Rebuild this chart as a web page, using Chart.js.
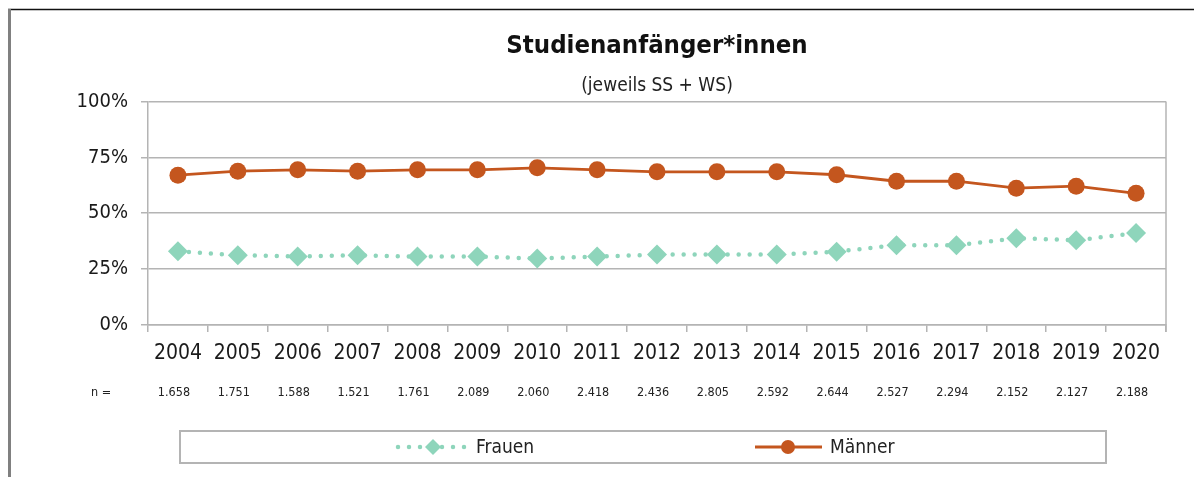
<!DOCTYPE html>
<html lang="de">
<head>
<meta charset="utf-8">
<title>Studienanfänger*innen</title>
<script src="https://cdn.jsdelivr.net/npm/chart.js@4.4.1/dist/chart.umd.min.js"></script>
<style>
  html, body { margin: 0; padding: 0; background: #fff; }
  #wrap { width: 1194px; height: 477px; position: relative; }
</style>
</head>
<body>
<div id="wrap"><canvas id="grafico"></canvas></div>
<script>
// Daten
const jahre = ['2004', '2005', '2006', '2007', '2008', '2009', '2010', '2011', '2012',
               '2013', '2014', '2015', '2016', '2017', '2018', '2019', '2020'];
const frauen = [33.0, 31.2, 30.6, 31.2, 30.6, 30.6, 29.7, 30.6, 31.5, 31.5, 31.5, 32.8, 35.7, 35.7, 38.8, 37.9, 41.1];
const maenner = [67.0, 68.8, 69.4, 68.8, 69.4, 69.4, 70.3, 69.4, 68.5, 68.5, 68.5, 67.2, 64.3, 64.3, 61.2, 62.1, 58.9];
const anzahl = ['1.658', '1.751', '1.588', '1.521', '1.761', '2.089', '2.060', '2.418', '2.436',
                '2.805', '2.592', '2.644', '2.527', '2.294', '2.152', '2.127', '2.188'];
const yTicks = [0, 25, 50, 75, 100];

const FONT = '"DejaVu Sans Condensed", "Liberation Sans Narrow", "DejaVu Sans", sans-serif';
const farbeFrauen = '#8ed5bb';
const farbeMaenner = '#c4561e';
const grau = '#b4b4b4';

// Zeichnet Rahmen, rechte Achsenlinie, n-Zeile und Legende
const extras = {
    id: 'extras',
    afterDraw(chart) {
        const ctx = chart.ctx;
        const area = chart.chartArea;
        const x = chart.scales.x;
        ctx.save();

        // rechte Linie der Zeichenfläche
        ctx.strokeStyle = grau;
        ctx.lineWidth = 1.5;
        ctx.beginPath();
        ctx.moveTo(area.right, area.top);
        ctx.lineTo(area.right, area.bottom + 7);
        ctx.stroke();

        // äußerer Rahmen (oben schwarz, links grau)
        ctx.strokeStyle = '#111';
        ctx.lineWidth = 1.5;
        ctx.beginPath();
        ctx.moveTo(8, 9.5);
        ctx.lineTo(chart.width, 9.5);
        ctx.stroke();
        ctx.strokeStyle = '#808080';
        ctx.lineWidth = 3;
        ctx.beginPath();
        ctx.moveTo(9.5, 9);
        ctx.lineTo(9.5, chart.height);
        ctx.stroke();

        // n = ...
        const yN = area.bottom + 68;
        ctx.fillStyle = '#222';
        ctx.font = '12.5px ' + FONT;
        ctx.textBaseline = 'middle';
        ctx.textAlign = 'center';
        ctx.fillText('n =', 101, yN);
        anzahl.forEach((n, i) => {
            ctx.fillText(n, x.getPixelForValue(i) - 4, yN);
        });

        // Legende
        const top = chart.height - 46;
        const lx = area.left + 32;
        const rx = area.right - 60;
        ctx.strokeStyle = grau;
        ctx.lineWidth = 2;
        ctx.strokeRect(lx, top, rx - lx, 32);
        const ly = top + 16;

        // Frauen: gepunktete Linie mit Raute
        const fx = 433;
        ctx.strokeStyle = farbeFrauen;
        ctx.lineWidth = 4.5;
        ctx.lineCap = 'round';
        ctx.setLineDash([0, 11]);
        ctx.beginPath();
        ctx.moveTo(fx - 35, ly);
        ctx.lineTo(fx + 37, ly);
        ctx.stroke();
        ctx.setLineDash([]);
        ctx.fillStyle = farbeFrauen;
        ctx.beginPath();
        ctx.moveTo(fx - 8, ly);
        ctx.lineTo(fx, ly - 8);
        ctx.lineTo(fx + 8, ly);
        ctx.lineTo(fx, ly + 8);
        ctx.closePath();
        ctx.fill();

        // Männer: Linie mit Kreis
        const mx = 788;
        ctx.strokeStyle = farbeMaenner;
        ctx.lineWidth = 3;
        ctx.lineCap = 'butt';
        ctx.beginPath();
        ctx.moveTo(mx - 33, ly);
        ctx.lineTo(mx + 34, ly);
        ctx.stroke();
        ctx.fillStyle = farbeMaenner;
        ctx.beginPath();
        ctx.arc(mx, ly, 7, 0, Math.PI * 2);
        ctx.fill();

        ctx.fillStyle = '#222';
        ctx.font = '19px ' + FONT;
        ctx.textAlign = 'left';
        ctx.fillText(chart.data.datasets[0].label, 476, ly + 1);
        ctx.fillText(chart.data.datasets[1].label, 830, ly + 1);

        ctx.restore();
    }
};

const ctx = document.getElementById('grafico').getContext('2d');
const chart = new Chart(ctx, {
    type: 'line',
    data: {
        labels: jahre,
        datasets: [{
            label: 'Frauen',
            data: frauen,
            borderColor: farbeFrauen,
            backgroundColor: farbeFrauen,
            borderWidth: 4.5,
            borderDash: [0, 11],
            borderCapStyle: 'round',
            pointStyle: 'rectRot',
            pointRadius: 10,
            pointBorderWidth: 0,
            tension: 0,
            fill: false
        }, {
            label: 'Männer',
            data: maenner,
            borderColor: farbeMaenner,
            backgroundColor: farbeMaenner,
            borderWidth: 2.8,
            pointStyle: 'circle',
            pointRadius: 8.5,
            pointBorderWidth: 0,
            tension: 0,
            fill: false
        }]
    },
    options: {
        responsive: true,
        maintainAspectRatio: false,
        animation: false,
        layout: { padding: { top: 21, right: 28, bottom: 112, left: 0 } },
        plugins: {
            legend: { display: false },
            tooltip: { enabled: false },
            title: {
                display: true,
                text: 'Studienanfänger*innen',
                fullSize: false,
                color: '#111',
                font: { family: FONT, size: 25.5, weight: 'bold', lineHeight: 1.2 },
                padding: { top: 10, bottom: 5 }
            },
            subtitle: {
                display: true,
                text: '(jeweils SS + WS)',
                fullSize: false,
                color: '#222',
                font: { family: FONT, size: 19, lineHeight: 1.2 },
                padding: { top: 8, bottom: 4 }
            }
        },
        scales: {
            x: {
                offset: true,
                grid: {
                    offset: true,
                    drawOnChartArea: false,
                    drawTicks: true,
                    tickLength: 7,
                    color: grau,
                    lineWidth: 1.5
                },
                border: { display: true, color: grau, width: 1.5 },
                ticks: {
                    color: '#1a1a1a',
                    padding: 9,
                    maxRotation: 0,
                    autoSkip: false,
                    font: { family: FONT, size: 21 }
                },
                afterFit(scale) { scale.height = 40; }
            },
            y: {
                min: 0,
                max: 100,
                afterBuildTicks(scale) {
                    scale.ticks = yTicks.map(v => ({ value: v }));
                },
                grid: {
                    color: grau,
                    lineWidth: 1.5,
                    drawTicks: true,
                    tickLength: 7
                },
                border: { display: true, color: grau, width: 1.5 },
                ticks: {
                    color: '#1a1a1a',
                    padding: 13,
                    font: { family: FONT, size: 20 },
                    callback: v => v + '%'
                },
                afterFit(scale) { scale.width = 148; }
            }
        }
    },
    plugins: [extras]
});
</script>
</body>
</html>
